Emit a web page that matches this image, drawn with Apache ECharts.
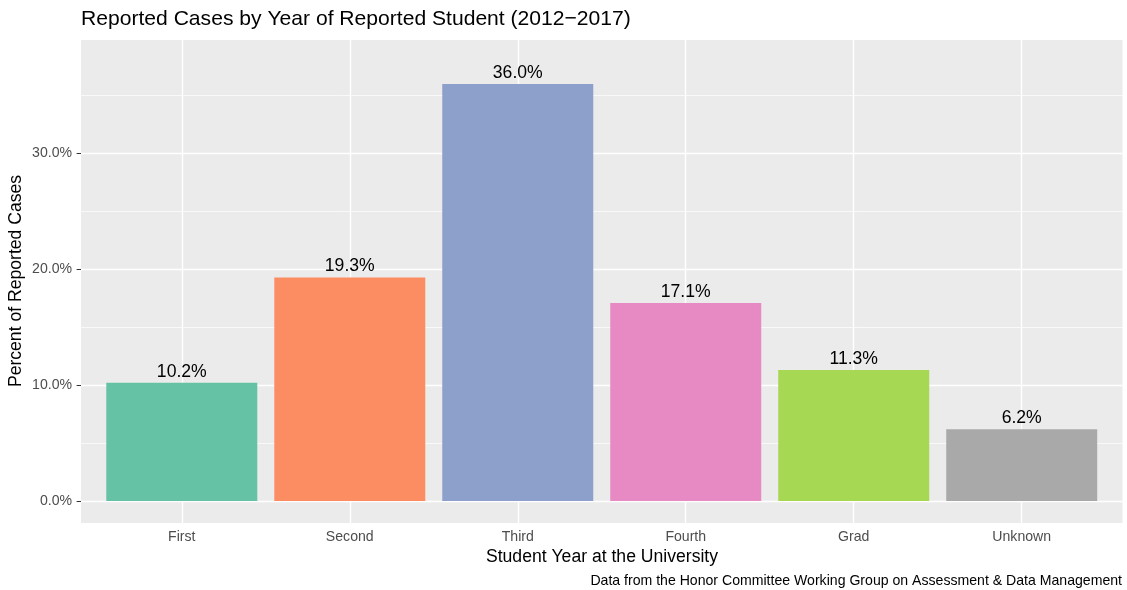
<!DOCTYPE html>
<html>
<head>
<meta charset="utf-8">
<script src="https://cdn.jsdelivr.net/npm/echarts@6/dist/echarts.min.js"></script>
<style>
html,body{margin:0;padding:0;background:#fff;}
#chart{width:1127px;height:590px;}
</style>
</head>
<body>
<div id="chart"></div>
<script>
const categories = ['First', 'Second', 'Third', 'Fourth', 'Grad', 'Unknown'];
const percents = [10.2, 19.3, 36.0, 17.1, 11.3, 6.2];
const barColors = ['#66C2A5', '#FC8D62', '#8DA0CB', '#E78AC3', '#A6D854', '#A9A9A9'];
const yTicks = [0, 10, 20, 30];
const yMinorTicks = [5, 15, 25, 35];
const xTicks = [1, 2, 3, 4, 5, 6];
const titleText = 'Reported Cases by Year of Reported Student (2012\u22122017)';
const xTitle = 'Student Year at the University';
const yTitle = 'Percent of Reported Cases';
const captionText = 'Data from the Honor Committee Working Group on Assessment & Data Management';

const FONT = 'Liberation Sans, Arial, Helvetica, sans-serif';
const chart = echarts.init(document.getElementById('chart'), null, {renderer: 'canvas'});

const gridLines = [];
yTicks.forEach(v => gridLines.push({yAxis: v, lineStyle: {color: '#ffffff', width: 1.4, type: 'solid'}}));
yMinorTicks.forEach(v => gridLines.push({yAxis: v, lineStyle: {color: '#ffffff', width: 0.7, type: 'solid'}}));
xTicks.forEach(v => gridLines.push({xAxis: v, lineStyle: {color: '#ffffff', width: 1.4, type: 'solid'}}));

const option = {
  animation: false,
  backgroundColor: '#ffffff',
  textStyle: {fontFamily: FONT},
  grid: {
    left: 81, right: 4.5, top: 40, bottom: 67,
    show: true, backgroundColor: '#EBEBEB', borderWidth: 0
  },
  xAxis: {
    type: 'value', min: 0.4, max: 6.6,
    axisLine: {show: false},
    axisTick: {show: true, customValues: xTicks, length: 4.4, lineStyle: {color: '#333333', width: 1}},
    axisLabel: {customValues: xTicks, formatter: v => categories[Math.round(v) - 1] || '',
      color: '#4D4D4D', fontSize: 14.1, fontFamily: FONT, margin: 7},
    splitLine: {show: false}
  },
  yAxis: {
    type: 'value', min: -1.9, max: 39.8,
    axisLine: {show: false},
    axisTick: {show: true, customValues: yTicks, length: 4.4, lineStyle: {color: '#333333', width: 1}},
    axisLabel: {customValues: yTicks, formatter: v => v.toFixed(1) + '%',
      color: '#4D4D4D', fontSize: 14.1, fontFamily: FONT, margin: 9},
    splitLine: {show: false}
  },
  series: [
    {
      type: 'line', data: [], silent: true, z: 1,
      markLine: {silent: true, symbol: ['none', 'none'], label: {show: false},
        animation: false, data: gridLines}
    },
    {
      type: 'bar', z: 10, barWidth: 151,
      data: percents.map((v, i) => ({value: [xTicks[i], v], itemStyle: {color: barColors[i]}})),
      label: {show: true, position: 'top', distance: 2,
        formatter: p => p.value[1].toFixed(1) + '%',
        color: '#000000', fontSize: 17.6, fontFamily: FONT}
    }
  ],
  graphic: [
    {type: 'text', x: 81, y: 19.5, style: {text: titleText, font: '21.1px ' + FONT, fill: '#000000', align: 'left', verticalAlign: 'middle'}},
    {type: 'text', x: 602, y: 557, style: {text: xTitle, font: '17.6px ' + FONT, fill: '#000000', align: 'center', verticalAlign: 'middle'}},
    {type: 'text', x: 16, y: 281, rotation: Math.PI / 2, style: {text: yTitle, font: '17.6px ' + FONT, fill: '#000000', align: 'center', verticalAlign: 'middle'}},
    {type: 'text', x: 1122, y: 581, style: {text: captionText, font: '14.1px ' + FONT, fill: '#000000', align: 'right', verticalAlign: 'middle'}}
  ]
};
chart.setOption(option);
</script>
</body>
</html>
